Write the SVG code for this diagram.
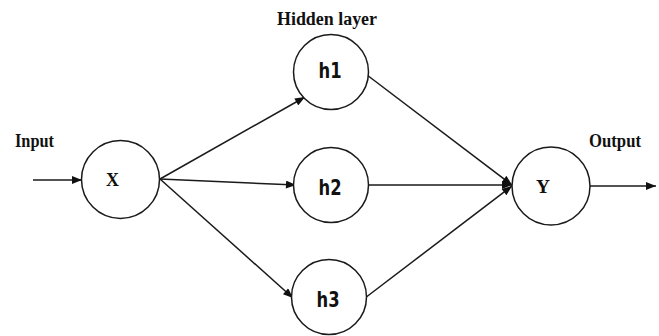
<svg xmlns="http://www.w3.org/2000/svg" width="659" height="336" viewBox="0 0 659 336">
<style>
.node{fill:#fff;stroke:#1a1a1a;stroke-width:1.5}
.edge{fill:none;stroke:#1a1a1a;stroke-width:1.5;marker-end:url(#ah)}
.lbl{font-family:"Liberation Serif","Times New Roman",serif;font-weight:bold;font-size:18px;fill:#111}
.xy{font-family:"Liberation Serif","Times New Roman",serif;font-weight:bold;font-size:19px;fill:#111;text-anchor:middle}
.h{font-family:"DejaVu Sans Condensed","DejaVu Sans",sans-serif;font-weight:bold;font-size:21px;fill:#111;text-anchor:middle}
</style>
<defs>
<marker id="ah" viewBox="0 0 10 8" refX="10" refY="4" markerWidth="11" markerHeight="8" markerUnits="userSpaceOnUse" orient="auto">
<path d="M0,0 L10,4 L0,8 Z" fill="#111"/>
</marker>
</defs>
<rect width="659" height="336" fill="#fff"/>
<text class="lbl" x="277" y="25" textLength="100" lengthAdjust="spacingAndGlyphs">Hidden  layer</text>
<text class="lbl" x="15" y="147" textLength="39" lengthAdjust="spacingAndGlyphs">Input</text>
<text class="lbl" x="589" y="147" textLength="52" lengthAdjust="spacingAndGlyphs">Output</text>
<g id="connectors">
<line class="edge" x1="33" y1="180" x2="82" y2="180"/>
<line class="edge" x1="160" y1="179" x2="305" y2="97"/>
<line class="edge" x1="160" y1="179" x2="296" y2="185"/>
<line class="edge" x1="160" y1="179" x2="293" y2="298"/>
<line class="edge" x1="367" y1="75" x2="512" y2="185"/>
<line class="edge" x1="367" y1="185" x2="512" y2="185"/>
<line class="edge" x1="365" y1="298" x2="512" y2="186"/>
<line class="edge" x1="590" y1="186" x2="656" y2="186"/>
</g>
<g id="node-x"><circle class="node" cx="120.5" cy="179.5" r="39"/><text class="xy" x="112.5" y="186" textLength="13" lengthAdjust="spacingAndGlyphs">X</text></g>
<g id="node-h1"><circle class="node" cx="331" cy="72" r="37.5"/><text class="h" x="330" y="78" textLength="23" lengthAdjust="spacingAndGlyphs">h1</text></g>
<g id="node-h2"><circle class="node" cx="331" cy="185" r="37.5"/><text class="h" x="330" y="195" textLength="23" lengthAdjust="spacingAndGlyphs">h2</text></g>
<g id="node-h3"><circle class="node" cx="329" cy="297" r="37.5"/><text class="h" x="328" y="307" textLength="23" lengthAdjust="spacingAndGlyphs">h3</text></g>
<g id="node-y"><circle class="node" cx="551" cy="186" r="39"/><text class="xy" x="543" y="193" textLength="14" lengthAdjust="spacingAndGlyphs">Y</text></g>
</svg>
